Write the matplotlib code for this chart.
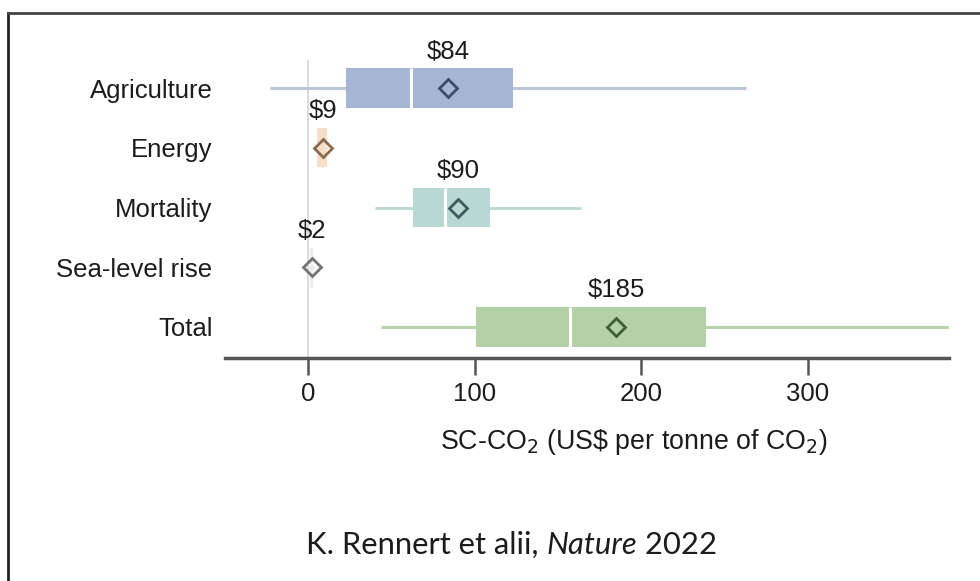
import matplotlib
matplotlib.use("Agg")
import matplotlib.pyplot as plt
from matplotlib.lines import Line2D
from matplotlib.offsetbox import HPacker, TextArea, AnchoredOffsetbox

# Damage-sector estimates of the social cost of CO2 (US$ per tonne)
sectors = ["Agriculture", "Energy", "Mortality", "Sea-level rise", "Total"]
means = [84, 9, 90, 2, 185]
medians = [62, 8, 82, 1.5, 157]
q1 = [23, 5, 63, 0.8, 101]
q3 = [123, 11, 109, 2.6, 239]
whisker_lo = [-23, 4, 40, 0.3, 44]
whisker_hi = [263, 12, 164, 3.5, 392]
value_labels = ["$84", "$9", "$90", "$2", "$185"]
x_ticks = [0, 100, 200, 300]

box_colors = ["#a4b6d4", "#f5dfc8", "#b9d7d3", "#ececec", "#b3d0a6"]
whisker_colors = ["#b9c6da", "#f3e2d0", "#bcdccf", "#e6e6e6", "#b8d4ab"]
median_colors = ["white", "#f5dfc8", "white", "#ececec", "white"]
marker_colors = ["#3c4d66", "#8a6b52", "#3b5b5c", "#737373", "#3e5f35"]

TEXT = "#1c1c1c"
FS = 18.5

plt.rcParams["font.family"] = ["Liberation Sans", "DejaVu Sans"]

W, H = 980, 581
fig = plt.figure(figsize=(W / 100, H / 100), dpi=100)

# axes box in pixel terms: left 225, right 949, top 60, bottom 358
ax = fig.add_axes([225 / W, 1 - 358 / H, (949 - 225) / W, (358 - 60) / H])

ys = list(range(len(sectors)))
box_h = 0.66

ax.axvline(0, color="#d9d9d9", lw=1.3, zorder=0)

for i, y in enumerate(ys):
    ax.hlines(y, whisker_lo[i], whisker_hi[i], color=whisker_colors[i], lw=2.2, zorder=1)
    ax.barh(y, q3[i] - q1[i], left=q1[i], height=box_h, color=box_colors[i],
            edgecolor="none", zorder=2)
    ax.vlines(medians[i], y - box_h / 2, y + box_h / 2, color=median_colors[i],
              lw=2.2, zorder=3)
    ax.plot(means[i], y, marker="D", ms=9, mfc="none", mec=marker_colors[i], mew=2.0,
            zorder=4, clip_on=False)
    ax.text(means[i], y - 0.41, value_labels[i], ha="center", va="bottom",
            fontsize=FS, color=TEXT, clip_on=False)

ax.set_xlim(-50, 385)
ax.set_ylim(4.52, -0.47)

ax.set_yticks(ys)
ax.set_yticklabels(sectors, fontsize=FS, color=TEXT)
ax.tick_params(axis="y", length=0, pad=9)

ax.set_xticks(x_ticks)
ax.set_xticklabels([str(t) for t in x_ticks], fontsize=FS, color=TEXT)
ax.tick_params(axis="x", length=12, width=1.8, color="#555555", pad=5)

for side in ["top", "right", "left"]:
    ax.spines[side].set_visible(False)
ax.spines["bottom"].set_color("#555555")
ax.spines["bottom"].set_linewidth(2.5)

ax.set_xlabel("SC-CO$_2$ (US\\$ per tonne of CO$_2$)", fontsize=FS + 0.8, color=TEXT)
ax.xaxis.set_label_coords(0.565, -0.23)

# citation line: regular, italic journal name, regular year
cite_props = dict(fontsize=22.3, family="Lato", color=TEXT)
parts = [
    TextArea("K. Rennert et alii, ", textprops=cite_props),
    TextArea("Nature", textprops=dict(cite_props, style="italic")),
    TextArea(" 2022", textprops=cite_props),
]
pack = HPacker(children=parts, align="baseline", pad=0, sep=0)
anchored = AnchoredOffsetbox(loc="center left", child=pack, frameon=False, pad=0,
                             bbox_to_anchor=(306 / W, 1 - 545 / H),
                             bbox_transform=fig.transFigure, borderpad=0)
fig.add_artist(anchored)

# outer frame: left and top edges
fig.add_artist(Line2D([8 / W, 8 / W], [0, 1 - 13 / H], transform=fig.transFigure,
                      color="#222222", lw=2))
fig.add_artist(Line2D([8 / W, 1], [1 - 13 / H, 1 - 13 / H], transform=fig.transFigure,
                      color="#444444", lw=2))

fig.savefig("out.png", dpi=100)
